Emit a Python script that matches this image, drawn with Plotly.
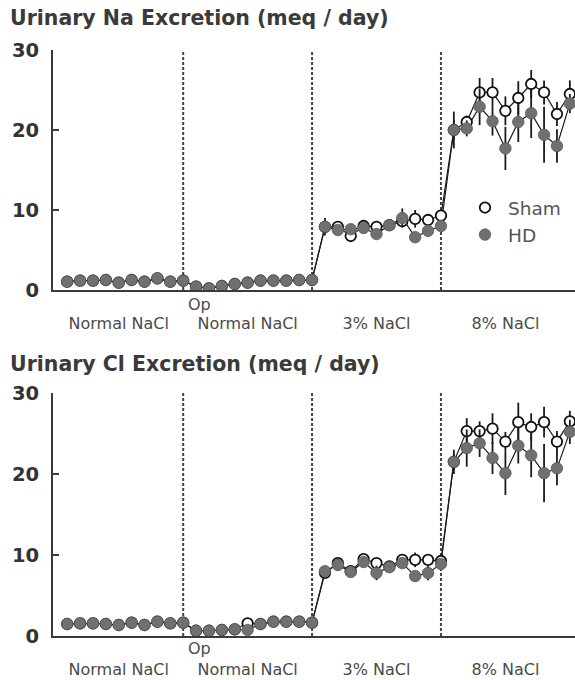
import plotly.graph_objects as go

# ---------------- data ----------------
day_index = list(range(40))
period_labels = ["Normal NaCl", "Normal NaCl", "3% NaCl", "8% NaCl"]
period_centers = [4, 14, 24, 34]
period_breaks = [9, 19, 29]
op_position = 10.3
y_ticks = [0, 10, 20, 30]

na_sham = [1.04, 1.17, 1.17, 1.25, 0.92, 1.25, 1.04, 1.46, 1.04, 1.17,
           0.42, 0.2, 0.5, 0.75, 0.92, 1.17, 1.17, 1.17, 1.25, 1.25,
           7.9, 7.9, 6.75, 8.0, 7.9, 8.1, 8.6, 8.9, 8.75, 9.3,
           20.0, 21.0, 24.7, 24.7, 22.4, 24.0, 25.75, 24.7, 22.0, 24.5]
na_sham_err = [0.15] * 20 + [0.3, 0.3, 0.4, 0.3, 0.4, 0.3, 0.5, 1.1, 0.6, 0.7,
                             1.2, 0.8, 1.8, 1.8, 1.8, 2.1, 1.75, 1.5, 1.5, 1.7]
na_hd = [1.04, 1.17, 1.17, 1.25, 0.92, 1.25, 1.04, 1.46, 1.04, 1.17,
         0.42, 0.2, 0.5, 0.75, 0.92, 1.17, 1.17, 1.17, 1.25, 1.25,
         7.9, 7.5, 7.6, 7.75, 7.0, 8.1, 9.0, 6.6, 7.4, 8.0,
         20.0, 20.2, 22.9, 21.1, 17.7, 21.0, 22.1, 19.4, 18.0, 23.3]
na_hd_err = [0.15] * 20 + [1.1, 0.3, 0.3, 0.3, 0.5, 0.3, 1.2, 0.5, 0.6, 0.6,
                           2.3, 1.0, 2.3, 1.8, 2.7, 2.5, 3.1, 3.5, 2.1, 1.2]

cl_sham = [1.48, 1.57, 1.57, 1.48, 1.36, 1.64, 1.36, 1.77, 1.57, 1.64,
           0.65, 0.65, 0.74, 0.83, 1.57, 1.48, 1.77, 1.77, 1.77, 1.64,
           7.8, 9.0, 8.0, 9.5, 9.0, 8.6, 9.4, 9.4, 9.4, 9.26,
           21.5, 25.3, 25.3, 25.6, 24.0, 26.4, 25.8, 26.4, 24.0, 26.5]
cl_sham_err = [0.15] * 20 + [0.3, 0.4, 0.3, 0.4, 0.4, 0.3, 0.4, 0.9, 0.4, 0.4,
                             1.0, 1.6, 1.2, 1.9, 1.2, 2.4, 1.7, 1.9, 1.3, 1.3]
cl_hd = [1.48, 1.57, 1.57, 1.48, 1.36, 1.64, 1.36, 1.77, 1.57, 1.64,
         0.65, 0.65, 0.74, 0.83, 0.74, 1.48, 1.77, 1.77, 1.77, 1.64,
         8.0, 8.77, 7.9, 9.14, 7.78, 8.5, 9.0, 7.4, 7.78, 8.9,
         21.5, 23.2, 23.8, 21.98, 20.1, 23.5, 22.3, 20.1, 20.7, 25.2]
cl_hd_err = [0.15] * 20 + [0.3, 0.7, 0.3, 0.3, 0.9, 0.3, 0.3, 0.4, 0.9, 0.4,
                           1.5, 2.3, 1.7, 2.0, 2.7, 2.2, 2.7, 3.6, 2.1, 1.5]

titles = ["Urinary Na Excretion (meq / day)", "Urinary Cl Excretion (meq / day)"]

# ---------------- styles ----------------
W, H = 575, 680
FONT = "DejaVu Sans"
HD_FILL = "#707070"
AXIS_COLOR = "#3a3a3a"

def py(px):
    return 1 - px / H

panels = [
    dict(sham=na_sham, sham_err=na_sham_err, hd=na_hd, hd_err=na_hd_err,
         xa="x", ya="y", dom=[py(290), py(50)], title_y=py(18), op_y=py(304), legend=True),
    dict(sham=cl_sham, sham_err=cl_sham_err, hd=cl_hd, hd_err=cl_hd_err,
         xa="x2", ya="y2", dom=[py(636), py(393)], title_y=py(364), op_y=py(648), legend=False),
]

fig = go.Figure()
annotations = []
shapes = []

for i, p in enumerate(panels):
    for series in (p["sham"], p["hd"]):
        fig.add_trace(go.Scatter(x=day_index, y=series, mode="lines",
                                 line=dict(color="#1a1a1a", width=1.2),
                                 showlegend=False, hoverinfo="skip",
                                 xaxis=p["xa"], yaxis=p["ya"]))
    fig.add_trace(go.Scatter(x=day_index, y=p["sham"], mode="markers", name="Sham",
                             marker=dict(symbol="circle", size=10.5, color="white",
                                         line=dict(color="#111111", width=1.8)),
                             error_y=dict(type="data", array=p["sham_err"], color="#1a1a1a",
                                          thickness=1.8, width=0),
                             showlegend=p["legend"], xaxis=p["xa"], yaxis=p["ya"]))
    fig.add_trace(go.Scatter(x=day_index, y=p["hd"], mode="markers", name="HD",
                             marker=dict(symbol="circle", size=11.5, color=HD_FILL,
                                         line=dict(color="#5a5a5a", width=0.8)),
                             error_y=dict(type="data", array=p["hd_err"], color="#1a1a1a",
                                          thickness=1.8, width=0),
                             showlegend=p["legend"], xaxis=p["xa"], yaxis=p["ya"]))
    for b in period_breaks:
        shapes.append(dict(type="line", xref=p["xa"], yref=p["ya"] + " domain",
                           x0=b, x1=b, y0=0, y1=1,
                           line=dict(color="#444444", width=2, dash="3px,2px"), layer="below"))
    annotations.append(dict(text=titles[i], xref="paper", yref="paper",
                            x=8 / W, y=p["title_y"], xanchor="left", yanchor="middle",
                            showarrow=False,
                            font=dict(family=FONT, size=20.5, color="#3a3a3a", weight="bold")))
    annotations.append(dict(text="Op", xref=p["xa"], yref="paper", x=op_position,
                            y=p["op_y"], xanchor="center", yanchor="middle", showarrow=False,
                            font=dict(family=FONT, size=16, color="#4a4a4a")))

xaxis_common = dict(range=[-1.1, 39.4], domain=[53 / W, 1], showgrid=False, zeroline=False,
                    showline=True, linecolor=AXIS_COLOR, linewidth=2, automargin=False,
                    tickmode="array", tickvals=period_centers, ticktext=period_labels,
                    ticks="", ticklabelstandoff=18,
                    tickfont=dict(family=FONT, size=16, color="#4a4a4a"))
yaxis_common = dict(range=[0, 30], showgrid=False, zeroline=False, automargin=False,
                    showline=True, linecolor=AXIS_COLOR, linewidth=2,
                    tickmode="array", tickvals=y_ticks, ticks="inside", ticklen=6,
                    tickwidth=2, tickcolor=AXIS_COLOR, ticklabelstandoff=8,
                    tickfont=dict(family=FONT, size=19.5, color="#333333", weight="bold"))

fig.update_layout(
    width=W, height=H,
    margin=dict(l=0, r=0, t=0, b=0, pad=0, autoexpand=False),
    paper_bgcolor="white", plot_bgcolor="white",
    xaxis=dict(xaxis_common, anchor="y"),
    yaxis=dict(yaxis_common, domain=panels[0]["dom"], anchor="x"),
    xaxis2=dict(xaxis_common, anchor="y2"),
    yaxis2=dict(yaxis_common, domain=panels[1]["dom"], anchor="x2"),
    annotations=annotations,
    shapes=shapes,
    showlegend=True,
    legend=dict(x=462 / W, y=py(189), xanchor="left", yanchor="top",
                bgcolor="rgba(0,0,0,0)", font=dict(family=FONT, size=18.5, color="#555555"),
                tracegroupgap=0, itemsizing="trace", itemwidth=36),
)

fig.write_html("out.html")
